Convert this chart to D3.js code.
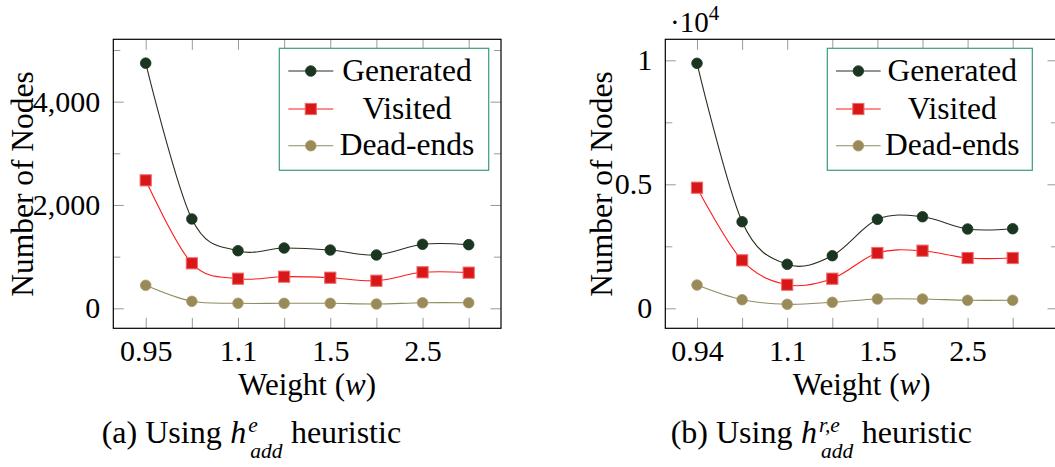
<!DOCTYPE html>
<html>
<head>
<meta charset="utf-8">
<script src="https://cdn.jsdelivr.net/npm/d3@7/dist/d3.min.js"></script>
</head>
<body style="margin:0">
<svg id="chart" width="1055" height="467" style="display:block"></svg>
<script>
// ---------------- data ----------------
const weightsA = ["0.95", "1.0", "1.1", "1.2", "1.5", "2.0", "2.5", "3.0"];
const weightsB = ["0.94", "1.0", "1.1", "1.2", "1.5", "2.0", "2.5", "3.0"];
const xTickLabelsA = ["0.95", "1.1", "1.5", "2.5"];
const xTickLabelsB = ["0.94", "1.1", "1.5", "2.5"];

const generatedA = [4745, 1730, 1115, 1167, 1128, 1032, 1239, 1232];
const visitedA   = [2477, 871, 573, 612, 592, 534, 697, 690];
const deadEndsA  = [445, 135, 97, 97, 97, 83, 108, 108];

const generatedB = [9879, 3492, 1774, 2121, 3589, 3694, 3198, 3210];
const visitedB   = [4863, 1935, 952, 1194, 2230, 2323, 2028, 2028];
const deadEndsB  = [940, 347, 161, 242, 375, 375, 323, 323];

const yMajorA = [0, 2000, 4000];
const yMajorLabelsA = ["0", "2,000", "4,000"];
const yMinorA = [1000, 3000, 5000];
const yMajorB = [0, 5000, 10000];
const yMajorLabelsB = ["0", "0.5", "1"];
const yMinorB = [2500, 7500];

const seriesNames = ["Generated", "Visited", "Dead-ends"];

// ---------------- styles ----------------
const FONT = "Liberation Serif";
const styles = {
  "Generated": { line: "#2b2e1e", fill: "#1b3620", stroke: "#1b3620", shape: "circle" },
  "Visited":   { line: "#ff1a1a", fill: "#d81818", stroke: "#f26a6a", shape: "square" },
  "Dead-ends": { line: "#8e8c5e", fill: "#9c8a56", stroke: "#a8996a", shape: "hatched" }
};

const svg = d3.select("#chart");

function txt(g, x, y, size, s) {
  return g.append("text").attr("x", x).attr("y", y).attr("font-family", FONT)
    .attr("font-size", size).attr("fill", "#000").text(s);
}

function drawMarker(g, x, y, st) {
  if (st.shape === "circle") {
    g.append("circle").attr("cx", x).attr("cy", y).attr("r", 5.3)
      .attr("fill", st.fill).attr("stroke", st.stroke).attr("stroke-width", 0.8);
  } else if (st.shape === "square") {
    g.append("rect").attr("x", x - 5.6).attr("y", y - 5.6).attr("width", 11.2).attr("height", 11.2)
      .attr("fill", st.fill).attr("stroke", st.stroke).attr("stroke-width", 1);
  } else {
    g.append("circle").attr("cx", x).attr("cy", y).attr("r", 5.3)
      .attr("fill", st.fill).attr("stroke", st.stroke).attr("stroke-width", 0.8);
    const d = 3.4;
    g.append("path")
      .attr("d", `M${x-d},${y-d}L${x+d},${y+d}M${x-d},${y+d}L${x+d},${y-d}`)
      .attr("stroke", "#8a8f62").attr("stroke-width", 0.8).attr("fill", "none");
  }
}

function drawPanel(cfg) {
  const g = svg.append("g");
  const x = d3.scalePoint().domain(cfg.cats).range([cfg.x0tick, cfg.x1tick]);
  const y = d3.scaleLinear().domain(cfg.yDomain).range([cfg.bottom, cfg.top]);

  function styleAxis(sel, color) {
    sel.attr("font-family", FONT).attr("font-size", 30);
    sel.select(".domain").remove();
    sel.selectAll(".tick line").attr("stroke", color).attr("stroke-width", 1);
    sel.selectAll(".tick text").attr("font-family", FONT).attr("fill", "#000").attr("font-size", 30);
  }
  const tickColor = "#9a9a9a";

  const labelSet = new Set(cfg.xLabels);
  const axB = d3.axisBottom(x).tickSize(-10.5).tickPadding(11)
    .tickFormat(d => labelSet.has(d) ? d : "");
  const gB = g.append("g").attr("transform", `translate(0,${cfg.bottom})`).call(axB);
  styleAxis(gB, tickColor);

  const gT = g.append("g").attr("transform", `translate(0,${cfg.top})`)
    .call(d3.axisTop(x).tickSize(-10.5).tickFormat(""));
  styleAxis(gT, tickColor);

  const axL = d3.axisLeft(y).tickValues(cfg.yMajor).tickSize(-10.5).tickPadding(13)
    .tickFormat((d, i) => cfg.yLabels[i]);
  const gL = g.append("g").attr("transform", `translate(${cfg.left},0)`).call(axL);
  styleAxis(gL, tickColor);
  const gLm = g.append("g").attr("transform", `translate(${cfg.left},0)`)
    .call(d3.axisLeft(y).tickValues(cfg.yMinor).tickSize(-7).tickFormat(""));
  styleAxis(gLm, tickColor);
  const gR = g.append("g").attr("transform", `translate(${cfg.right},0)`)
    .call(d3.axisRight(y).tickValues(cfg.yMajor).tickSize(-10.5).tickFormat(""));
  styleAxis(gR, tickColor);
  const gRm = g.append("g").attr("transform", `translate(${cfg.right},0)`)
    .call(d3.axisRight(y).tickValues(cfg.yMinor).tickSize(-7).tickFormat(""));
  styleAxis(gRm, tickColor);

  const line = d3.line().x((d, i) => x(cfg.cats[i])).y(d => y(d))
    .curve(d3.curveCardinal.tension(0));
  const seriesData = [cfg.generated, cfg.visited, cfg.deadEnds];
  seriesData.forEach((vals, si) => {
    const st = styles[seriesNames[si]];
    g.append("path").datum(vals).attr("d", line).attr("fill", "none")
      .attr("stroke", st.line).attr("stroke-width", 1.1);
  });
  seriesData.forEach((vals, si) => {
    const st = styles[seriesNames[si]];
    const mg = g.append("g");
    vals.forEach((v, i) => drawMarker(mg, x(cfg.cats[i]), y(v), st));
  });

  g.append("rect").attr("x", cfg.left).attr("y", cfg.top)
    .attr("width", cfg.right - cfg.left).attr("height", cfg.bottom - cfg.top)
    .attr("fill", "none").attr("stroke", "#000").attr("stroke-width", 1.2);

  // legend
  const L = cfg.legend;
  g.append("rect").attr("x", L.x0).attr("y", 48.3).attr("width", L.x1 - L.x0).attr("height", 122)
    .attr("fill", "#fff").attr("stroke", "#3a9a80").attr("stroke-width", 1.2);
  const rows = [71, 109, 145.7];
  seriesNames.forEach((name, si) => {
    const st = styles[name];
    const ry = rows[si];
    g.append("line").attr("x1", L.lx0).attr("x2", L.lx1).attr("y1", ry).attr("y2", ry)
      .attr("stroke", st.line).attr("stroke-width", 1.1);
    drawMarker(g, (L.lx0 + L.lx1) / 2, ry, st);
    txt(g, L.tx, ry + 9.5, 31.5, name).attr("text-anchor", "middle");
  });

  // x-axis label
  const xl = txt(g, (cfg.left + cfg.right) / 2, 395, 31, "").attr("text-anchor", "middle");
  xl.append("tspan").text("Weight (");
  xl.append("tspan").attr("font-style", "italic").text("w");
  xl.append("tspan").text(")");

  // y-axis label
  g.append("text").attr("transform", `translate(${cfg.ylabelX},184) rotate(-90)`)
    .attr("font-family", FONT).attr("text-anchor", "middle").attr("font-size", 31.5)
    .attr("fill", "#000").text("Number of Nodes");

  // caption
  const c1 = txt(g, cfg.capX, 443, 32, cfg.capPrefix + " Using");
  let cx = cfg.capX + c1.node().getComputedTextLength() + 8.5;
  const h = txt(g, cx, 443, 32, "h").attr("font-style", "italic");
  cx += h.node().getComputedTextLength() + 2;
  const sup = txt(g, cx, 431.5, 21.5, cfg.capSup).attr("font-style", "italic");
  const sub = txt(g, cx + 2, 457.5, 21.5, "add").attr("font-style", "italic");
  cx += Math.max(sup.node().getComputedTextLength(), sub.node().getComputedTextLength() + 2) + 8.5;
  txt(g, cx, 443, 32, "heuristic");

  if (cfg.exponent) {
    const ex = txt(g, 670, 31.7, 29, "");
    ex.append("tspan").text("·10");
    ex.append("tspan").attr("font-size", 21).attr("dy", -12).text("4");
  }
}

drawPanel({
  cats: weightsA, xLabels: xTickLabelsA,
  x0tick: 145.7, x1tick: 468.7,
  left: 113.3, right: 501, top: 39.3, bottom: 328.3,
  yDomain: [-387, 5207], yMajor: yMajorA, yLabels: yMajorLabelsA, yMinor: yMinorA,
  generated: generatedA, visited: visitedA, deadEnds: deadEndsA,
  legend: { x0: 279.3, x1: 488.7, lx0: 288.3, lx1: 333.3, tx: 407 },
  ylabelX: 33, capX: 101.7, capPrefix: "(a)", capSup: "e", exponent: false
});

drawPanel({
  cats: weightsB, xLabels: xTickLabelsB,
  x0tick: 697, x1tick: 1012.7,
  left: 665.3, right: 1058, top: 39.3, bottom: 328.3,
  yDomain: [-806, 10847], yMajor: yMajorB, yLabels: yMajorLabelsB, yMinor: yMinorB,
  generated: generatedB, visited: visitedB, deadEnds: deadEndsB,
  legend: { x0: 827.3, x1: 1032.3, lx0: 836, lx1: 880.7, tx: 952.3 },
  ylabelX: 611.7, capX: 670.7, capPrefix: "(b)", capSup: "r,e", exponent: true
});
</script>
</body>
</html>
